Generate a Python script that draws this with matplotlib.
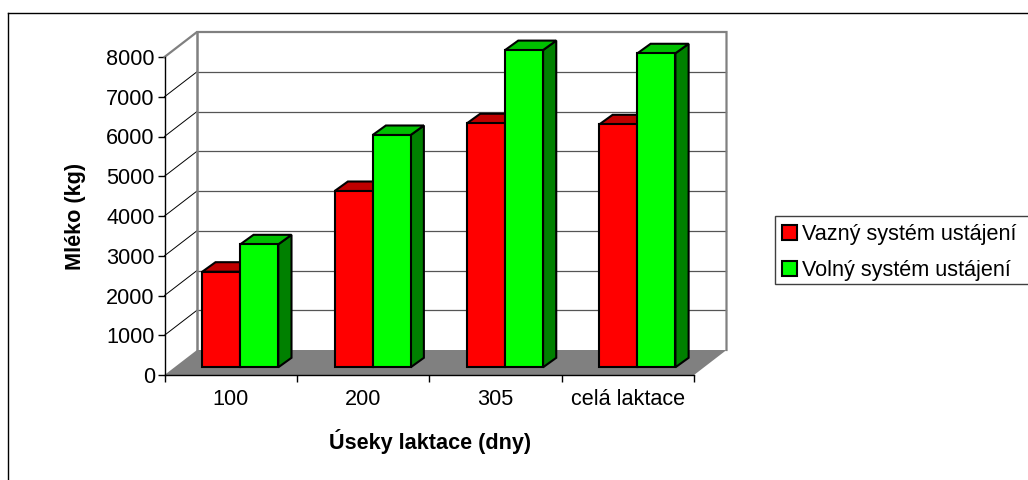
#!/usr/bin/env python3
"""Milk yield by lactation section, drawn as an Excel-style fake 3D column chart."""
import matplotlib
matplotlib.use("Agg")
import matplotlib.pyplot as plt
from matplotlib.patches import Polygon, Rectangle
from matplotlib.lines import Line2D

plt.rcParams["font.family"] = ["Liberation Sans", "DejaVu Sans"]

categories = ["100", "200", "305", "celá laktace"]
tied = [2405, 4435, 6140, 6113]
loose = [3094, 5844, 7980, 7900]
yticks = [0, 1000, 2000, 3000, 4000, 5000, 6000, 7000, 8000]
series_names = ["Vazný systém ustájení", "Volný systém ustájení"]
ylabel = "Mléko (kg)"
xlabel = "Úseky laktace (dny)"

W, H = 1028, 480
FS = 15.6
# plot box in pixels (front plane)
X0, X1 = 164.5, 694.0
Y0, Y1 = 375.0, 57.0
DX_PX, DY_PX = 32.5, 25.0   # wall depth

RED, RED_TOP, RED_SIDE = "#ff0000", "#c00000", "#800000"
GREEN, GREEN_TOP, GREEN_SIDE = "#00ff00", "#00c000", "#008000"
GREY = "#808080"

fig = plt.figure(figsize=(W/100, H/100), dpi=100)
ax = fig.add_axes([X0/W, 1-Y0/H, (X1-X0)/W, (Y0-Y1)/H])
ax.set_xlim(0, len(categories))
ax.set_ylim(0, 8000)
ax.patch.set_visible(False)
for s in ("top", "right"):
    ax.spines[s].set_visible(False)
for s in ("left", "bottom"):
    ax.spines[s].set_color("black")
    ax.spines[s].set_linewidth(1.0)
    ax.spines[s].set_zorder(6)

# pixels to data units
ux = len(categories) / (X1 - X0)
uy = 8000 / (Y0 - Y1)
dx, dy = DX_PX*ux, DY_PX*uy

# floor and walls
ax.add_patch(Polygon([(0, 0), (dx, dy), (4+dx, dy), (4, 0)], fc=GREY, ec="none", zorder=1,
                     clip_on=False))
for v in yticks[1:-1]:
    ax.plot([0, dx], [v, v+dy], color="black", lw=0.7, zorder=2, clip_on=False)
    ax.plot([dx, 4+dx], [v+dy, v+dy], color="#555555", lw=0.9, zorder=2, clip_on=False)
ax.plot([0, dx, 4+dx, 4+dx], [8000, 8000+dy, 8000+dy, dy], color=GREY, lw=1.6, zorder=2,
        clip_on=False, solid_joinstyle="miter")
ax.plot([dx, dx], [dy, 8000+dy], color=GREY, lw=1.8, zorder=2, clip_on=False)


def column(x, w, v, front, top, side, z):
    # front face sits part way into the depth, side and top go to the back
    ox, oy = 9.6*ux, 7.7*uy
    bx, by = 13.2*ux, 9.5*uy
    xl, xr = x+ox, x+ox+w
    lw = 1.5
    ax.add_patch(Polygon([(xr, oy), (xr+bx, oy+by), (xr+bx, oy+by+v), (xr, oy+v)],
                         fc=side, ec="black", lw=lw, zorder=z, joinstyle="miter", clip_on=False))
    ax.add_patch(Polygon([(xl, oy+v), (xl+bx, oy+by+v), (xr+bx, oy+by+v), (xr, oy+v)],
                         fc=top, ec="black", lw=lw, zorder=z, joinstyle="miter", clip_on=False))
    ax.add_patch(Rectangle((xl, oy), w, v, fc=front, ec="black", lw=lw, zorder=z+0.5,
                           joinstyle="miter", clip_on=False))


bar_w = 38.0*ux
for i in range(len(categories)):
    x = i + (202.3-9.6-X0)*ux
    column(x, bar_w, tied[i], RED, RED_TOP, RED_SIDE, 3+i)
    column(x+bar_w, bar_w, loose[i], GREEN, GREEN_TOP, GREEN_SIDE, 3.6+i)

ax.set_yticks(yticks)
ax.set_xticks(range(len(categories)+1))
ax.set_xticklabels([])
ax.set_xticks([i+0.5 for i in range(len(categories))], categories, minor=True)
ax.tick_params(axis="x", which="minor", length=0, pad=10, labelsize=FS)
ax.tick_params(axis="x", which="major", length=5, width=1.0)
ax.tick_params(axis="y", length=5, width=1.0, labelsize=FS, pad=2)
ax.set_ylabel(ylabel, fontsize=FS, fontweight="bold", va="center")
ax.yaxis.set_label_coords((75-X0)/(X1-X0), 0.5)
fig.text(430/W, 1-441/H, xlabel, fontsize=FS, fontweight="bold", ha="center", va="center")

# chart frame, open at the bottom and right like the reference
fig.add_artist(Line2D([7.5/W, 7.5/W], [0, 1-12.5/H], color="black", lw=1.0))
fig.add_artist(Line2D([7.5/W, 1], [1-12.5/H, 1-12.5/H], color="black", lw=1.0))

# legend box runs off the right edge of the picture, so it is drawn on its own
fig.add_artist(Rectangle((775/W, 1-283.5/H), 265/W, 67/H, transform=fig.transFigure,
                         fc="white", ec="#404040", lw=1.0))
leg = fig.legend([Rectangle((0, 0), 1, 1, fc=RED, ec="black", lw=1.5),
                  Rectangle((0, 0), 1, 1, fc=GREEN, ec="black", lw=1.5)],
                 series_names, loc="upper left",
                 bbox_to_anchor=(772/W, 1-214.5/H), bbox_transform=fig.transFigure,
                 fontsize=FS, frameon=False,
                 borderaxespad=0, handlelength=0.7, handleheight=0.7, handletextpad=0.25,
                 labelspacing=0.68, borderpad=0.45)

fig.savefig("out.png", dpi=100)
